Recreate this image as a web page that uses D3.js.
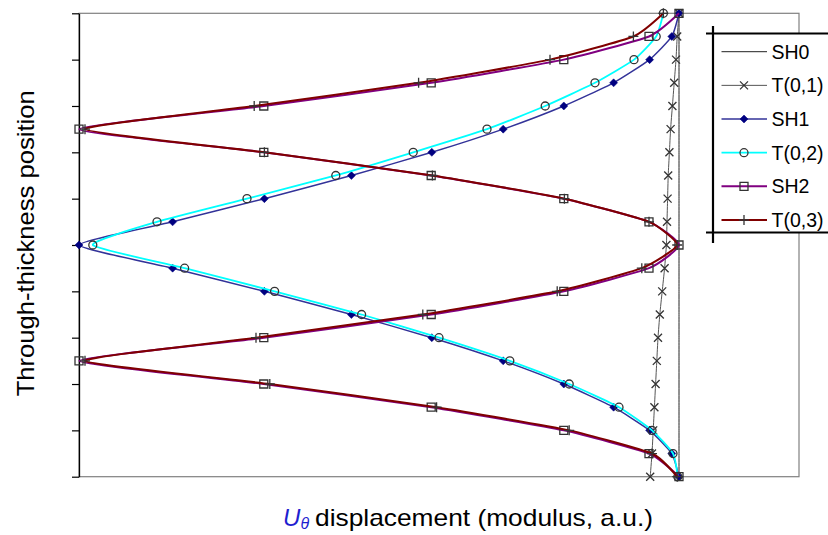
<!DOCTYPE html>
<html>
<head>
<meta charset="utf-8">
<script src="https://cdn.jsdelivr.net/npm/d3@7"></script>
<style>
  body { margin: 0; background: #fff; }
  text { font-family: "Liberation Sans", Arial, sans-serif; }
</style>
</head>
<body>
<div class="canvas"></div>
<script>
// through-thickness positions (0 = bottom face, 1 = top face)
const positions = [0, 0.05, 0.1, 0.15, 0.2, 0.25, 0.3, 0.35, 0.4, 0.45, 0.5,
                   0.55, 0.6, 0.65, 0.7, 0.75, 0.8, 0.85, 0.9, 0.95, 1]

// modulus of U_theta
const sh0 = [1, 1, 1, 1, 1, 1, 1, 1, 1, 1, 1, 1, 1, 1, 1, 1, 1, 1, 1, 1, 1]
const t01 = [0.952, 0.955, 0.957, 0.959, 0.961, 0.963, 0.965, 0.968, 0.972, 0.976, 0.979,
             0.980, 0.981, 0.982, 0.984, 0.986, 0.989, 0.992, 0.995, 0.997, 1]
const sh1 = [1, 0.988, 0.951, 0.891, 0.808, 0.707, 0.588, 0.454, 0.309, 0.156, 0,
             0.156, 0.309, 0.454, 0.588, 0.707, 0.808, 0.891, 0.951, 0.988, 1]
const t02 = [0.998, 0.99, 0.955, 0.9, 0.817, 0.718, 0.6, 0.471, 0.326, 0.176, 0.023,
             0.13, 0.28, 0.428, 0.557, 0.68, 0.777, 0.86, 0.925, 0.962, 0.974]
const sh2 = [1, 0.95, 0.808, 0.587, 0.308, 0, 0.308, 0.587, 0.808, 0.95, 1,
             0.95, 0.808, 0.587, 0.308, 0, 0.308, 0.587, 0.808, 0.95, 1]
const t03 = [0.997, 0.955, 0.817, 0.596, 0.318, 0.01, 0.295, 0.573, 0.797, 0.938, 0.997,
             0.95, 0.809, 0.589, 0.309, 0.01, 0.292, 0.566, 0.785, 0.924, 0.974]

const seriesNames = ['SH0', 'T(0,1)', 'SH1', 'T(0,2)', 'SH2', 'T(0,3)']
const seriesValues = [sh0, t01, sh1, t02, sh2, t03]
const yTicks = [0, 0.1, 0.2, 0.3, 0.4, 0.5, 0.6, 0.7, 0.8, 0.9, 1]

// look of each series
const styles = [
  { line: '#222222', width: 1, marker: null },
  { line: '#555555', width: 1, marker: 'times' },
  { line: '#333399', width: 1.5, marker: 'diamond' },
  { line: '#00ffff', width: 1.8, marker: 'circle' },
  { line: '#800080', width: 2, marker: 'square' },
  { line: '#800000', width: 2, marker: 'plus' }
]

const svg = d3.select('.canvas').append('svg')
    .attr('width', 828)
    .attr('height', 535)

const x = d3.scaleLinear().domain([0, 1.2]).range([79, 799])
const y = d3.scaleLinear().domain([0, 1]).range([476.7, 13.3])

// lines stay inside the plot area
svg.append('clipPath')
    .attr('id', 'plot-clip')
  .append('rect')
    .attr('x', x(0) - 0.5)
    .attr('y', y(1) - 2)
    .attr('width', x(1.2) - x(0))
    .attr('height', y(0) - y(1) + 4)

// plot area border (grey)
svg.append('rect')
    .attr('x', x(0))
    .attr('y', y(1))
    .attr('width', x(1.2) - x(0))
    .attr('height', y(0) - y(1))
    .attr('fill', 'none')
    .attr('stroke', '#808080')
    .attr('stroke-width', 1.2)

// left axis, ticks without labels
svg.append('g')
    .attr('transform', `translate(${x(0)},0)`)
    .call(d3.axisLeft(y).tickValues(yTicks).tickSize(7).tickSizeOuter(0).tickFormat(''))
    .call(g => g.select('.domain').attr('stroke', '#000').attr('stroke-width', 1.3))
    .call(g => g.selectAll('.tick line').attr('stroke', '#000').attr('stroke-width', 1.2))

function markerPath(type, cx, cy) {
  const p = d3.path()
  if (type === 'times') {
    const s = 4
    p.moveTo(cx - s, cy - s); p.lineTo(cx + s, cy + s)
    p.moveTo(cx - s, cy + s); p.lineTo(cx + s, cy - s)
  } else if (type === 'plus') {
    const s = 5
    p.moveTo(cx - s, cy); p.lineTo(cx + s, cy)
    p.moveTo(cx, cy - s); p.lineTo(cx, cy + s)
  } else if (type === 'diamond') {
    const s = 4
    p.moveTo(cx, cy - s); p.lineTo(cx + s, cy); p.lineTo(cx, cy + s); p.lineTo(cx - s, cy); p.closePath()
  } else if (type === 'square') {
    p.rect(cx - 4, cy - 4, 8, 8)
  } else if (type === 'circle') {
    p.moveTo(cx + 4, cy); p.arc(cx, cy, 4, 0, 2 * Math.PI)
  }
  return p.toString()
}

function markerStyle(sel, type) {
  if (type === 'diamond') {
    sel.attr('fill', '#000080').attr('stroke', '#000080').attr('stroke-width', 0.5)
  } else {
    sel.attr('fill', 'none').attr('stroke', '#333').attr('stroke-width', 1.3)
  }
}

const line = d3.line()
    .x(d => x(d[0]))
    .y(d => y(d[1]))
    .curve(d3.curveCardinal.tension(0.5))

seriesValues.forEach((vals, i) => {
  const st = styles[i]
  const pts = vals.map((v, k) => [v, positions[k]])
  const g = svg.append('g')
  g.append('path')
      .attr('d', line(pts))
      .attr('clip-path', 'url(#plot-clip)')
      .attr('fill', 'none')
      .attr('stroke', st.line)
      .attr('stroke-width', st.width)
  if (st.marker) {
    g.selectAll('path.m')
      .data(pts)
      .join('path')
        .attr('class', 'm')
        .attr('d', d => markerPath(st.marker, x(d[0]), y(d[1])))
        .call(markerStyle, st.marker)
  }
})

// legend
const legend = svg.append('g')
legend.append('rect')
    .attr('x', 713)
    .attr('y', 33.5)
    .attr('width', 120)
    .attr('height', 199)
    .attr('fill', '#fff')
legend.append('line').attr('x1', 706).attr('x2', 830).attr('y1', 33.5).attr('y2', 33.5)
legend.append('line').attr('x1', 706).attr('x2', 830).attr('y1', 232.5).attr('y2', 232.5)
legend.append('line').attr('x1', 713).attr('x2', 713).attr('y1', 26).attr('y2', 243)
legend.selectAll('line').attr('stroke', '#000').attr('stroke-width', 2.2)

seriesNames.forEach((name, i) => {
  const cy = 51.7 + i * 33.66
  const st = styles[i]
  legend.append('line')
      .attr('x1', 721.5).attr('x2', 767)
      .attr('y1', cy).attr('y2', cy)
      .attr('stroke', st.line)
      .attr('stroke-width', st.width)
  if (st.marker) {
    legend.append('path')
        .attr('d', markerPath(st.marker, 744, cy))
        .call(markerStyle, st.marker)
  }
  legend.append('text')
      .attr('x', 771.5)
      .attr('y', cy + 7)
      .attr('font-size', 19.5)
      .attr('fill', '#000')
      .text(name)
})

// axis titles
svg.append('text')
    .attr('transform', 'translate(33.5,243.3) rotate(-90)')
    .attr('text-anchor', 'middle')
    .attr('font-size', 24)
    .attr('textLength', 306)
    .attr('lengthAdjust', 'spacingAndGlyphs')
    .text('Through-thickness position')

svg.append('text')
    .attr('x', 283)
    .attr('y', 525.5)
    .attr('font-size', 24)
    .attr('font-style', 'italic')
    .attr('fill', '#1f1fd0')
    .text('U')
svg.append('text')
    .attr('x', 300.5)
    .attr('y', 528.5)
    .attr('font-size', 16)
    .attr('font-style', 'italic')
    .attr('fill', '#1f1fd0')
    .text('θ')
svg.append('text')
    .attr('x', 315)
    .attr('y', 525.5)
    .attr('font-size', 24)
    .attr('textLength', 338)
    .attr('lengthAdjust', 'spacingAndGlyphs')
    .text('displacement (modulus, a.u.)')
</script>
</body>
</html>
